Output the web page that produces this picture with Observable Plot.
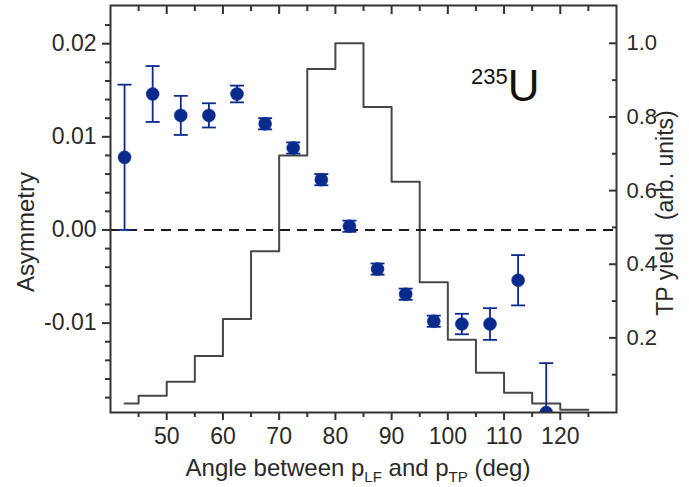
<!DOCTYPE html>
<html><head><meta charset="utf-8">
<script src="https://cdn.jsdelivr.net/npm/d3@7"></script>
<script src="https://cdn.jsdelivr.net/npm/@observablehq/plot@0.6"></script>
<style>body{margin:0;background:#fff}</style>
</head><body><div id="chart"></div>
<script>
// ---- data ----
const angles = [42.5,47.5,52.5,57.5,62.5,67.5,72.5,77.5,82.5,87.5,92.5,97.5,102.5,107.5,112.5,117.5];
const asymmetry = [0.0078,0.0146,0.0123,0.0123,0.0146,0.0114,0.0088,0.0054,0.0004,-0.0042,-0.0069,-0.0098,-0.0101,-0.0101,-0.0054,-0.0196];
const asymmetryErr = [0.0078,0.0030,0.0021,0.0013,0.0009,0.0006,0.0006,0.0006,0.0006,0.0006,0.0006,0.0006,0.0011,0.0017,0.0027,0.0053];
const binEdges = [42.5,45,50,55,60,65,70,75,80,85,90,95,100,105,110,115,120,125];
const tpYield = [0.022,0.043,0.081,0.151,0.251,0.435,0.695,0.93,1.0,0.827,0.624,0.351,0.195,0.105,0.051,0.022,0.005];
const xTicks = [50,60,70,80,90,100,110,120];
const xMinor = [45,55,65,75,85,95,105,115,125];
const asymTicks = [-0.01,0,0.01,0.02];
const asymMinor = [-0.018,-0.016,-0.014,-0.012,-0.008,-0.006,-0.004,-0.002,0.002,0.004,0.006,0.008,0.012,0.014,0.016,0.018,0.022];
const yieldTicks = [0.2,0.4,0.6,0.8,1.0];
const yieldMinor = [0.1,0.3,0.5,0.7,0.9];

// ---- scales ----
const xDomain = [40, 130];
const yDomain = [-0.0196, 0.0241];
const yieldDomain = [-0.0027, 1.1027];
const k = (yDomain[1]-yDomain[0])/(yieldDomain[1]-yieldDomain[0]);
const toAsym = v => yDomain[0] + (v - yieldDomain[0]) * k;
const fromAsym = a => yieldDomain[0] + (a - yDomain[0]) / k;

const blue = "#0b2a8e";
const ink = "#2a2a2a";

const points = angles.map((a,i) => ({angle: a, asym: asymmetry[i], lo: asymmetry[i]-asymmetryErr[i], hi: asymmetry[i]+asymmetryErr[i]}));
const caps = points.flatMap(p => [{angle: p.angle, v: p.lo}, {angle: p.angle, v: p.hi}]);
const hist = binEdges.map((e,i) => ({edge: e, v: toAsym(tpYield[Math.min(i, tpYield.length-1)])}));

const capSymbol = {draw(ctx, size){ const w = Math.sqrt(size/Math.PI); ctx.moveTo(-w,0); ctx.lineTo(w,0); }};

const svg = Plot.plot({
  width: 689, height: 487,
  marginLeft: 110, marginRight: 73, marginTop: 5, marginBottom: 75,
  style: {fontFamily: "'Liberation Sans', Arial, sans-serif", fontSize: "23px", color: ink, background: "#fff"},
  x: {domain: xDomain},
  y: {domain: yDomain},
  marks: [
    Plot.line(hist, {x: "edge", y: "v", curve: "step-after", stroke: "#474747", strokeWidth: 2}),
    Plot.ruleY([0], {stroke: "#1a1a1a", strokeWidth: 2, strokeDasharray: "10,7"}),
    Plot.ruleX(points, {x: "angle", y1: "lo", y2: "hi", stroke: blue, strokeWidth: 1.8, clip: true}),
    Plot.dot(caps, {x: "angle", y: "v", symbol: capSymbol, r: 7, stroke: blue, strokeWidth: 1.8, fill: "none", clip: true}),
    Plot.dot(points, {x: "angle", y: "asym", r: 6.5, fill: blue, stroke: blue, strokeWidth: 0.5, clip: true}),
    Plot.frame({stroke: "#333", strokeWidth: 2}),
    Plot.axisX(xTicks, {anchor: "bottom", tickSize: 8, tickPadding: 7, strokeWidth: 2, stroke: "#333", tickFormat: d => String(d), label: null}),
    Plot.axisX(xMinor, {anchor: "bottom", tickSize: 5, strokeWidth: 2, stroke: "#333", fill: "none", label: null}),
    Plot.axisX(xTicks, {anchor: "top", tickSize: -8, strokeWidth: 2, stroke: "#333", fill: "none", label: null}),
    Plot.axisX(xMinor, {anchor: "top", tickSize: -5, strokeWidth: 2, stroke: "#333", fill: "none", label: null}),
    Plot.axisY(asymTicks, {anchor: "left", tickSize: 8, tickPadding: 6, strokeWidth: 2, stroke: "#333", tickFormat: d => d.toFixed(2), label: null}),
    Plot.axisY(asymMinor, {anchor: "left", tickSize: 5, strokeWidth: 2, stroke: "#333", fill: "none", label: null}),
    Plot.axisY(yieldTicks.map(toAsym), {anchor: "right", tickSize: -8, strokeWidth: 2, stroke: "#333", fill: "none", label: null}),
    Plot.axisY(yieldMinor.map(toAsym), {anchor: "right", tickSize: -5, strokeWidth: 2, stroke: "#333", fill: "none", label: null}),
    Plot.axisY(yieldTicks.map(toAsym), {anchor: "right", tickSize: 0, tickPadding: 10, fontSize: 22, tickFormat: d => fromAsym(d).toFixed(1), label: null})
  ]
});

const s = d3.select(svg);
const ff = "'Liberation Sans', Arial, sans-serif";
s.append("text").attr("transform", "translate(34,232) rotate(-90)").attr("text-anchor", "middle")
  .attr("font-family", ff).attr("font-size", 24).attr("fill", ink).text("Asymmetry");
s.append("text").attr("transform", "translate(673,213) rotate(-90)").attr("text-anchor", "middle")
  .attr("font-family", ff).attr("font-size", 23).attr("fill", ink).style("white-space", "pre").text("TP yield  (arb. units)");
const xl = s.append("text").attr("x", 358).attr("y", 476).attr("text-anchor", "middle")
  .attr("font-family", ff).attr("font-size", 24).attr("fill", ink);
xl.append("tspan").text("Angle between p");
xl.append("tspan").attr("dy", 6).attr("font-size", 15).text("LF");
xl.append("tspan").attr("dy", -6).text(" and p");
xl.append("tspan").attr("dy", 6).attr("font-size", 15).text("TP");
xl.append("tspan").attr("dy", -6).text(" (deg)");
const tt = s.append("text").attr("x", 471).attr("y", 101).attr("text-anchor", "start").attr("font-family", ff).attr("fill", "#111");
tt.append("tspan").attr("font-size", 22).attr("dy", -17).text("235");
tt.append("tspan").attr("font-size", 44).attr("dy", 17).text("U");

document.getElementById("chart").appendChild(svg);
</script>
</body></html>
